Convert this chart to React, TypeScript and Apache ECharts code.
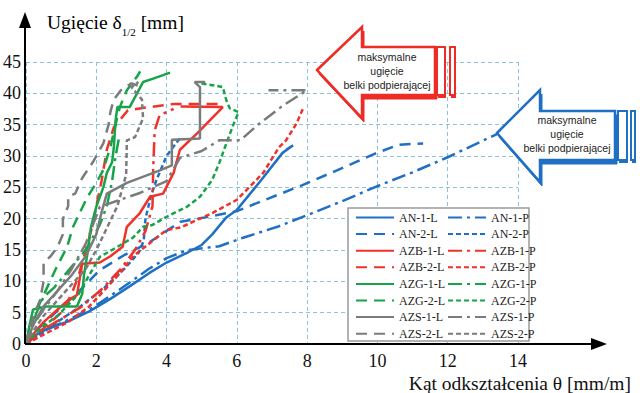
import React, { useEffect, useRef } from 'react';
import * as echarts from 'echarts';

const xMin = 0, xMax = 14, xStep = 2;
const yMin = 0, yMax = 45, yStep = 5;

const AN_1_L = [[0,0],[0.2,1.2],[0.6,2.4],[1.2,3.6],[1.8,5.2],[2.4,7.2],[3.0,9.4],[3.5,11.3],[4.0,13.0],[4.6,14.6],[5.0,15.8],[5.3,17.5],[5.7,20.2],[6.0,21.4],[6.7,26.2],[7.3,30.5],[7.6,31.7],[7.4,31.0]];
const AN_1_P = [[0,0],[0.4,1.8],[1.1,3.6],[1.9,5.8],[2.9,9.6],[3.5,12.0],[4.0,13.7],[4.6,15.0],[5.5,15.6],[6.2,17.0],[7.2,18.8],[8.2,21.0],[9.0,22.8],[10.0,25.2],[11.0,27.4],[12.0,29.8],[13.4,33.5]];
const AN_2_L = [[0,0],[0.3,2.2],[0.8,4.8],[1.4,7.8],[2.1,11.8],[2.8,14.2],[3.5,16.2],[4.4,19.5],[5.2,20.3],[6.0,21.2],[6.8,23.0],[7.8,25.2],[8.8,27.6],[9.9,30.3],[10.6,31.8],[11.3,32.0]];
const AN_2_P = [[0,0],[0.3,1.0],[0.8,3.2],[1.5,5.8],[2.2,8.8],[2.8,12.0],[3.2,14.5],[3.35,16.5],[3.4,20.0],[3.55,23.5],[3.7,26.0],[4.0,30.0],[4.4,33.0]];

const AZB_1_L = [[0,0],[0.2,1.5],[0.5,3.5],[0.9,5.5],[1.2,7.0],[1.45,7.8],[1.6,12.8],[2.1,13.0],[2.4,14.0],[2.75,15.5],[2.87,18.7],[3.24,20.9],[3.53,23.5],[3.9,24.0],[4.2,27.3],[4.38,31.0],[4.87,33.6],[5.6,37.8],[4.4,37.9]];
const AZB_1_P = [[0,0],[0.4,2.0],[1.0,4.0],[1.6,6.0],[2.2,9.0],[2.7,12.0],[3.1,15.0],[3.4,18.0],[3.6,22.0],[3.62,28.0],[3.66,34.0],[3.8,36.5],[4.2,37.5]];
const AZB_2_L = [[0,0],[0.3,1.5],[0.6,3.0],[1.0,5.0],[1.3,8.0],[1.5,11.0],[1.65,14.0],[1.85,18.0],[2.0,22.0],[2.15,26.0],[2.3,31.0],[2.5,34.6],[2.9,37.3],[3.5,37.8],[4.2,38.3],[5.5,38.3]];
const AZB_2_P = [[0,0],[0.5,1.5],[1.2,3.5],[1.8,6.0],[2.3,9.0],[2.7,11.5],[3.05,14.0],[3.5,16.0],[4.0,18.2],[4.4,18.6],[5.3,20.9],[6.0,23.0],[6.75,27.3],[7.2,31.4],[7.4,32.5],[7.7,35.2],[7.9,37.8]];

const AZG_1_L = [[0,0],[0.1,3.0],[0.2,5.5],[0.6,6.0],[1.0,6.0],[1.45,6.0],[1.6,8.0],[1.65,11.0],[1.75,14.5],[1.85,18.7],[2.0,21.9],[2.2,25.0],[2.3,27.3],[2.45,29.0],[2.5,31.4],[2.55,35.7],[2.6,37.8],[2.95,37.8],[3.33,41.8],[3.6,42.3],[4.1,43.3]];
const AZG_1_P = [[0,0],[0.15,2.5],[0.3,5.0],[0.5,7.5],[0.8,9.0],[1.1,11.0],[1.4,13.0],[1.7,15.0],[1.9,17.0],[2.1,19.0],[2.3,22.0],[2.45,26.0],[2.55,30.0],[2.65,33.0]];
const AZG_2_L = [[0,0],[0.15,3.0],[0.35,6.0],[0.6,9.0],[0.85,12.0],[1.17,15.5],[1.34,18.7],[1.74,23.4],[2.0,25.7],[2.2,27.8],[2.4,31.4],[2.53,34.6],[2.67,37.8],[2.87,40.5],[3.15,42.6],[3.25,43.5]];
const AZG_2_P = [[0,0],[0.4,2.5],[0.9,4.5],[1.5,8.0],[1.8,11.0],[2.1,13.9],[2.6,15.5],[3.05,17.0],[3.33,18.7],[3.6,19.0],[4.0,20.3],[4.58,21.9],[4.95,23.5],[5.3,26.2],[5.5,28.9],[5.7,32.0],[5.9,35.0],[6.05,37.0],[5.8,37.6],[5.7,38.9],[5.6,41.0],[5.3,41.3],[4.95,41.6]];

const AZS_1_L = [[0,0],[0.2,3.0],[0.5,6.0],[0.9,8.5],[1.3,11.0],[1.7,14.0],[2.0,17.5],[2.15,21.0],[2.3,24.0],[2.87,25.7],[3.81,27.7],[4.15,28.5],[4.15,32.6],[4.95,32.8],[4.95,41.0],[4.8,41.8],[5.1,41.8]];
const AZS_1_P = [[0,0],[0.2,3.0],[0.5,5.5],[0.9,8.5],[1.3,12.0],[1.7,16.0],[2.1,21.9],[3.24,24.1],[4.0,26.0],[4.38,29.7],[5.0,30.8],[5.5,32.5],[6.1,32.5],[6.6,35.0],[7.3,38.0],[8.0,40.5],[6.9,40.5]];
const AZS_2_L = [[0,0],[0.1,2.5],[0.25,5.0],[0.4,7.0],[0.5,10.0],[0.5,13.0],[0.7,14.0],[0.9,15.5],[1.05,17.5],[1.05,20.0],[1.2,22.0],[1.2,23.5],[1.4,24.0],[1.6,26.5],[1.9,29.0],[2.2,32.0],[2.35,35.0],[2.4,37.0],[2.5,39.0],[2.7,40.5],[3.0,41.6],[3.2,41.2]];
const AZS_2_P = [[0,0],[0.2,2.0],[0.5,4.5],[0.9,7.0],[1.3,9.5],[1.7,12.0],[2.0,15.0],[2.3,18.5],[2.6,22.0],[2.85,27.0],[2.87,32.5],[3.1,33.0],[3.33,36.0],[3.3,39.0],[3.0,41.0],[3.2,41.8]];

const BLUE = '#1f70c4';
const RED = '#f0322b';
const GREEN = '#17a449';
const GRAY = '#7b7b7b';

const SOLID: any = 'solid';
const LONG: any = [11, 7];
const DASHDOT: any = [14, 5, 3, 5];
const SHORT: any = [5, 3];

const seriesDefs: [string, number[][], string, any][] = [
  ['AN-1-L', AN_1_L, BLUE, SOLID],
  ['AN-1-P', AN_1_P, BLUE, DASHDOT],
  ['AN-2-L', AN_2_L, BLUE, LONG],
  ['AN-2-P', AN_2_P, BLUE, SHORT],
  ['AZB-1-L', AZB_1_L, RED, SOLID],
  ['AZB-1-P', AZB_1_P, RED, DASHDOT],
  ['AZB-2-L', AZB_2_L, RED, LONG],
  ['AZB-2-P', AZB_2_P, RED, SHORT],
  ['AZG-1-L', AZG_1_L, GREEN, SOLID],
  ['AZG-1-P', AZG_1_P, GREEN, DASHDOT],
  ['AZG-2-L', AZG_2_L, GREEN, LONG],
  ['AZG-2-P', AZG_2_P, GREEN, SHORT],
  ['AZS-1-L', AZS_1_L, GRAY, SOLID],
  ['AZS-1-P', AZS_1_P, GRAY, DASHDOT],
  ['AZS-2-L', AZS_2_L, GRAY, LONG],
  ['AZS-2-P', AZS_2_P, GRAY, SHORT],
];

const SERIF = 'Liberation Serif';
const SANS = 'Liberation Sans';

function arrowGraphics(tipX: number, tipY: number, headX: number, headTop: number, headBot: number, bodyTop: number, bodyBot: number, bodyRight: number, bar1: number[], bar2: number[], color: string, textCx: number, textYs: number[]) {
  const pts = [[tipX, tipY], [headX, headTop], [headX, bodyTop], [bodyRight, bodyTop], [bodyRight, bodyBot], [headX, bodyBot], [headX, headBot]];
  const shadow = pts.map(p => [p[0] + 2, p[1] + 4]);
  const els: any[] = [
    { type: 'polygon', z: 20, shape: { points: shadow }, style: { fill: color, stroke: color, lineWidth: 1 } },
    { type: 'polygon', z: 21, shape: { points: pts }, style: { fill: '#fff', stroke: color, lineWidth: 2.5 } },
    { type: 'rect', z: 20, shape: { x: bar1[0] + 1, y: bodyTop + 3, width: bar1[1], height: bodyBot - bodyTop }, style: { fill: color } },
    { type: 'rect', z: 21, shape: { x: bar1[0], y: bodyTop, width: bar1[1], height: bodyBot - bodyTop }, style: { fill: '#fff', stroke: color, lineWidth: 2 } },
    { type: 'rect', z: 20, shape: { x: bar2[0] + 1, y: bodyTop + 3, width: bar2[1], height: bodyBot - bodyTop }, style: { fill: color } },
    { type: 'rect', z: 21, shape: { x: bar2[0], y: bodyTop, width: bar2[1], height: bodyBot - bodyTop }, style: { fill: '#fff', stroke: color, lineWidth: 2 } },
  ];
  const lines = ['maksymalne', 'ugięcie', 'belki podpierającej'];
  lines.forEach((t, i) => {
    els.push({ type: 'text', z: 22, x: textCx, y: textYs[i], style: { text: t, fill: '#222', font: '10.5px ' + SANS, align: 'center', verticalAlign: 'middle' } });
  });
  return els;
}

export default function App() {
  const ref = useRef<HTMLDivElement>(null);
  useEffect(() => {
    document.body.style.margin = '0';
    const chart = echarts.init(ref.current!, null, { renderer: 'svg' });
    const gridLine = { show: true, lineStyle: { color: '#8cc2da', type: [4, 3] as any, width: 1 } };
    const legendText = { fontFamily: SERIF, fontSize: 12, lineHeight: 13, color: '#222' };
    const legendCommon = {
      orient: 'vertical', top: 211, itemWidth: 38, itemHeight: 12, itemGap: 3.6,
      padding: 0, textStyle: legendText, z: 30, selectedMode: false,
      itemStyle: { opacity: 0, borderWidth: 0 },
    };
    const option: any = {
      animation: false,
      backgroundColor: '#fff',
      grid: { left: 26, right: 122, top: 62, bottom: 49, containLabel: false },
      xAxis: {
        type: 'value', min: xMin, max: xMax, interval: xStep,
        axisLine: { show: false }, axisTick: { show: false },
        axisLabel: { fontFamily: SERIF, fontSize: 18, color: '#111', margin: 8 },
        splitLine: gridLine,
      },
      yAxis: {
        type: 'value', min: yMin, max: yMax, interval: yStep,
        axisLine: { show: false }, axisTick: { show: false },
        axisLabel: { fontFamily: SERIF, fontSize: 18, color: '#111', margin: 5 },
        splitLine: gridLine,
      },
      legend: [
        { ...legendCommon, left: 355, data: seriesDefs.filter((_, i) => i % 2 === 0).map(s => s[0]) },
        { ...legendCommon, left: 447, data: seriesDefs.filter((_, i) => i % 2 === 1).map(s => s[0]) },
      ],
      series: seriesDefs.map(([name, data, color, type]) => ({
        name, type: 'line', data, symbol: 'none', showSymbol: false,
        lineStyle: { color, width: 2.5, type },
        itemStyle: { color },
        z: 2,
      })),
      graphic: [
        { type: 'rect', z: 25, shape: { x: 348, y: 208, width: 181, height: 133 }, style: { fill: '#fff', stroke: '#9a9a9a', lineWidth: 1.5 } },
        { type: 'line', z: 26, shape: { x1: 25, y1: 344, x2: 25, y2: 22 }, style: { stroke: '#000', lineWidth: 2 } },
        { type: 'polygon', z: 26, shape: { points: [[25, 12], [19, 28], [31, 28]] }, style: { fill: '#000' } },
        { type: 'line', z: 26, shape: { x1: 25, y1: 344, x2: 595, y2: 344 }, style: { stroke: '#000', lineWidth: 2 } },
        { type: 'polygon', z: 26, shape: { points: [[607, 344], [591, 338], [591, 350]] }, style: { fill: '#000' } },
        {
          type: 'text', z: 26, x: 47, y: 7,
          style: {
            text: '{a|Ugięcie δ}{b|1/2}{a| [mm]}',
            rich: {
              a: { fontFamily: SERIF, fontSize: 19.5, color: '#111', lineHeight: 30, verticalAlign: 'middle' },
              b: { fontFamily: SERIF, fontSize: 11, color: '#111', lineHeight: 30, verticalAlign: 'bottom' },
            },
          },
        },
        { type: 'text', z: 26, x: 631, y: 383, style: { text: 'Kąt odkształcenia θ [mm/m]', fill: '#111', font: '19.5px ' + SERIF, align: 'right', verticalAlign: 'middle' } },
        ...arrowGraphics(317, 70, 362, 27, 118, 47, 95, 435, [437, 8], [450, 5], '#ee2b24', 387, [57, 71, 85]),
        ...arrowGraphics(497, 133, 540, 90, 182, 111, 160, 615, [618, 9], [631, 4], '#1f70c4', 567, [120, 134, 148]),
      ],
    };
    chart.setOption(option);
    return () => chart.dispose();
  }, []);
  return <div ref={ref} style={{ width: 640, height: 393 }} />;
}
